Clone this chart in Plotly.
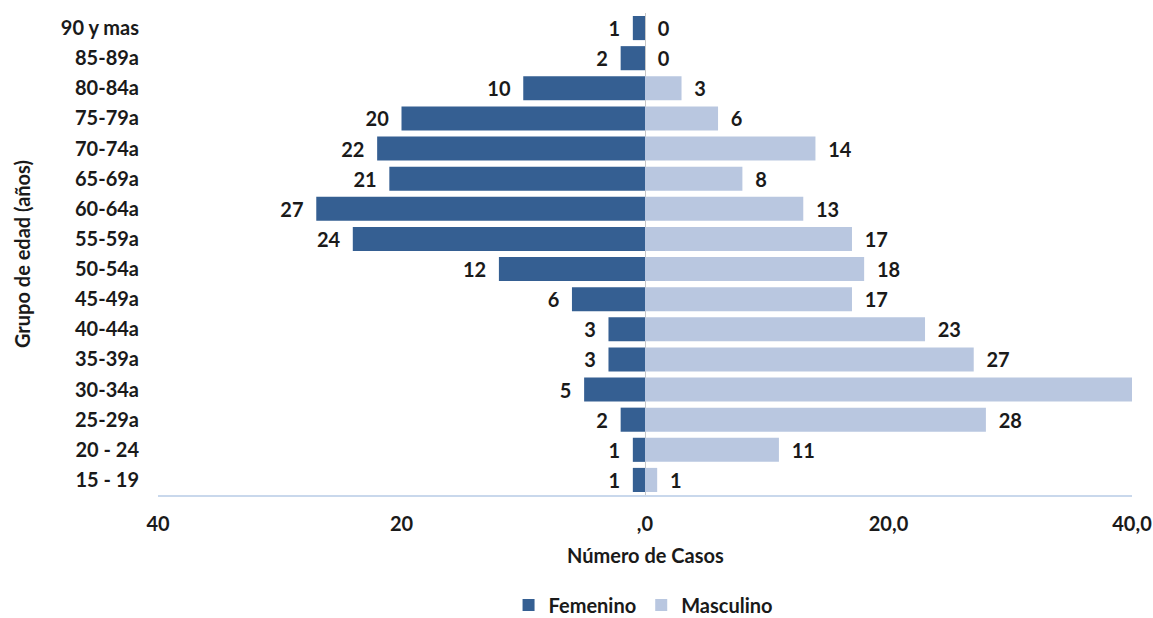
import plotly.graph_objects as go

# Age groups, bottom to top
grupos = ["15 - 19", "20 - 24", "25-29a", "30-34a", "35-39a", "40-44a", "45-49a",
          "50-54a", "55-59a", "60-64a", "65-69a", "70-74a", "75-79a", "80-84a",
          "85-89a", "90 y mas"]
femenino = [1, 1, 2, 5, 3, 3, 6, 12, 24, 27, 21, 22, 20, 10, 2, 1]
masculino = [1, 11, 28, 40, 27, 23, 17, 18, 17, 13, 8, 14, 6, 3, 0, 0]

x_ticks = [-40, -20, 0, 20, 40]
x_tick_labels = ["40", "20", ",0", "20,0", "40,0"]
x_max = 40

FONT = "Lato"
FS = 20
DARK = "#355F92"
LIGHT = "#B9C7E0"
TXT = dict(family=FONT, size=FS, color="#1a1a1a", weight="bold")

fig = go.Figure()

fig.add_trace(go.Bar(
    y=grupos, x=[-v for v in femenino], orientation="h", name="Femenino",
    marker=dict(color=DARK, line=dict(width=0)),
    text=[f"{v}  " for v in femenino], textposition="outside",
    textfont=TXT, cliponaxis=True, hoverinfo="skip",
))
fig.add_trace(go.Bar(
    y=grupos, x=masculino, orientation="h", name="Masculino",
    marker=dict(color=LIGHT, line=dict(width=0)),
    # a value reaching the axis end has its label cut off by the plot edge
    text=[f"  {v}" if v < x_max else "" for v in masculino], textposition="outside",
    textfont=TXT, cliponaxis=True, hoverinfo="skip",
))

fig.update_layout(
    width=1153, height=618,
    margin=dict(l=158, r=21, t=13, b=123, autoexpand=False),
    barmode="relative", bargap=0.2,
    plot_bgcolor="white", paper_bgcolor="white",
    font=TXT,
    showlegend=True,
    legend=dict(orientation="h", x=0.498, xanchor="center", y=-0.228, yanchor="middle",
                font=TXT, traceorder="normal", itemwidth=30),
    xaxis=dict(range=[-x_max, x_max], tickvals=x_ticks, ticktext=x_tick_labels,
               showgrid=False, zeroline=True, zerolinecolor="#C8C8C8", zerolinewidth=1,
               showline=True, linecolor="#C9D8EC", linewidth=2, automargin=False,
               ticks="", ticklabelstandoff=10, tickfont=TXT),
    yaxis=dict(categoryorder="array", categoryarray=grupos, showgrid=False,
               zeroline=False, showline=False, ticks="", ticklabelstandoff=18,
               automargin=False, tickfont=TXT),
    annotations=[
        dict(text="Número de Casos", xref="paper", yref="paper", x=0.5, y=-0.1245,
             xanchor="center", yanchor="middle", showarrow=False, font=TXT),
        dict(text="Grupo de edad (años)", xref="paper", yref="paper", x=-0.1396, y=0.5,
             xanchor="center", yanchor="middle", textangle=-90, showarrow=False, font=TXT),
    ],
)

fig.write_html("out.html")
